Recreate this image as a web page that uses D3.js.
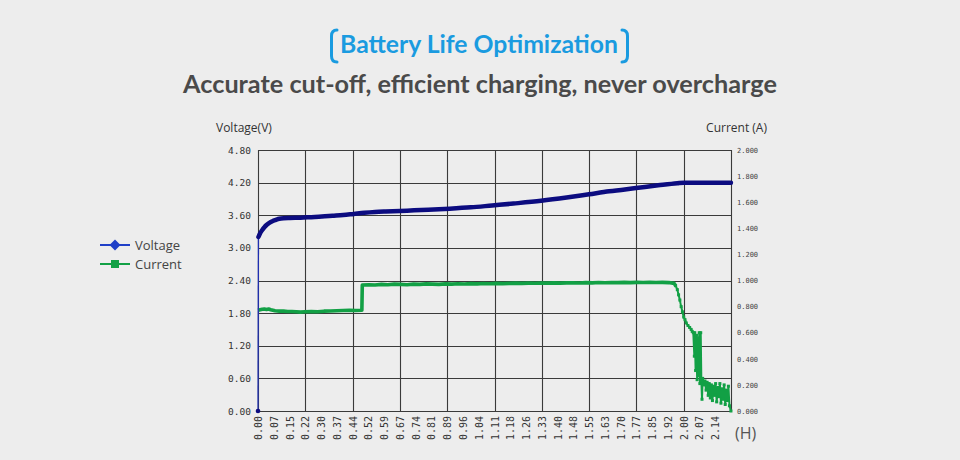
<!DOCTYPE html>
<html>
<head>
<meta charset="utf-8">
<script src="https://cdn.jsdelivr.net/npm/d3@7"></script>
<style>
  html, body { margin: 0; padding: 0; background: #ededed; }
  svg { display: block; }
</style>
</head>
<body>
<svg id="chart" width="960" height="460"></svg>
<script>
// ---------- DATA ----------
const titleText = "Battery Life Optimization";
const subtitleText = "Accurate cut-off, efficient charging, never overcharge";
const leftAxisTitle = "Voltage(V)";
const rightAxisTitle = "Current (A)";
const xUnit = "(H)";
const seriesNames = ["Voltage", "Current"];

const xTickLabels = ["0.00","0.07","0.15","0.22","0.30","0.37","0.44","0.52","0.59","0.67",
  "0.74","0.81","0.89","0.96","1.04","1.11","1.18","1.26","1.33","1.40",
  "1.48","1.55","1.63","1.70","1.77","1.85","1.92","2.00","2.07","2.14"];
const leftTicks = [0, 0.6, 1.2, 1.8, 2.4, 3.0, 3.6, 4.2, 4.8];
const rightTicks = [0, 0.2, 0.4, 0.6, 0.8, 1.0, 1.2, 1.4, 1.6, 1.8, 2.0];

// Voltage (hours, volts)
const voltageT = [0, 0.002, 0.01, 0.02, 0.03, 0.04, 0.05, 0.06, 0.07, 0.08, 0.09, 0.10, 0.12, 0.15,
  0.20, 0.25, 0.30, 0.35, 0.40, 0.45, 0.50, 0.55, 0.60, 0.70, 0.80, 0.90, 1.00, 1.10, 1.20,
  1.33, 1.45, 1.555, 1.65, 1.776, 1.88, 1.97, 2.00, 2.10, 2.222];
const voltageV = [0, 3.20, 3.27, 3.33, 3.38, 3.42, 3.45, 3.475, 3.495, 3.51, 3.525, 3.535, 3.545, 3.55,
  3.555, 3.565, 3.575, 3.59, 3.605, 3.625, 3.645, 3.66, 3.67, 3.685, 3.70, 3.72, 3.745, 3.78, 3.815,
  3.865, 3.925, 3.985, 4.04, 4.10, 4.15, 4.19, 4.20, 4.20, 4.20];

// Current (hours, amps)
const currentT = [0, 0.01, 0.02, 0.03, 0.04, 0.05, 0.06, 0.07, 0.08, 0.10, 0.12, 0.14, 0.16, 0.18,
  0.20, 0.22, 0.25, 0.28, 0.31, 0.34, 0.37, 0.40, 0.43, 0.46, 0.488, 0.49,
  0.52, 0.55, 0.58, 0.61, 0.64, 0.67, 0.70, 0.73, 0.76, 0.79, 0.82, 0.85, 0.88, 0.91, 0.94, 0.97,
  1.00, 1.03, 1.06, 1.09, 1.12, 1.15, 1.18, 1.21, 1.24, 1.27, 1.30, 1.33, 1.36, 1.39, 1.42, 1.45,
  1.48, 1.51, 1.54, 1.57, 1.60, 1.63, 1.66, 1.69, 1.72, 1.75, 1.78, 1.81, 1.84, 1.87, 1.90, 1.93,
  1.955, 1.962, 1.97, 1.976, 1.982, 1.988, 1.994, 2.00, 2.006, 2.012, 2.02, 2.028, 2.035, 2.04,
  2.045, 2.05, 2.052, 2.056, 2.06, 2.063, 2.066, 2.07, 2.073, 2.076, 2.08, 2.083, 2.086, 2.089,
  2.095, 2.10, 2.105, 2.11, 2.115, 2.12, 2.125, 2.13, 2.135, 2.14, 2.145, 2.15, 2.155, 2.16,
  2.165, 2.17, 2.175, 2.18, 2.185, 2.19, 2.195, 2.20, 2.205, 2.21, 2.215, 2.222];
const currentA = [0.772, 0.776, 0.78, 0.782, 0.778, 0.782, 0.776, 0.772, 0.768, 0.765, 0.765, 0.762, 0.762, 0.76,
  0.758, 0.76, 0.762, 0.76, 0.765, 0.766, 0.768, 0.77, 0.772, 0.77, 0.772, 0.965,
  0.968, 0.966, 0.97, 0.968, 0.972, 0.97, 0.968, 0.972, 0.97, 0.974, 0.972, 0.97, 0.974, 0.972, 0.975, 0.973,
  0.976, 0.974, 0.977, 0.975, 0.978, 0.976, 0.978, 0.98, 0.978, 0.98, 0.979, 0.981, 0.98, 0.982, 0.98, 0.982,
  0.983, 0.981, 0.984, 0.982, 0.985, 0.983, 0.985, 0.984, 0.986, 0.984, 0.986, 0.985, 0.987, 0.985, 0.986, 0.984,
  0.978, 0.96, 0.93, 0.89, 0.85, 0.80, 0.76, 0.72, 0.70, 0.675, 0.655, 0.64, 0.625, 0.61,
  0.60, 0.42, 0.60, 0.31, 0.58, 0.24, 0.56, 0.27, 0.60, 0.21, 0.60, 0.23, 0.09, 0.25,
  0.20, 0.23, 0.16, 0.22, 0.12, 0.21, 0.10, 0.20, 0.08, 0.19, 0.12, 0.21, 0.07, 0.18,
  0.11, 0.21, 0.06, 0.17, 0.09, 0.20, 0.05, 0.16, 0.08, 0.19, 0.04, 0.0];

// ---------- CHART ----------
const svg = d3.select("#chart");
const W = 960, H = 460;
const plot = { left: 258, right: 731, top: 150, bottom: 411 };
const xStep = 2 / 27;
const x = d3.scaleLinear().domain([0, 30 * xStep]).range([plot.left, plot.right]);
const yL = d3.scaleLinear().domain([0, 4.8]).range([plot.bottom, plot.top]);
const yR = d3.scaleLinear().domain([0, 2.0]).range([plot.bottom, plot.top]);

const blue = "#1a9be0";
const navy = "#0c0c80";
const green = "#12a045";
const grid = "#3a3a3a";

svg.append("rect").attr("width", W).attr("height", H).attr("fill", "#ededed");

// Title
function fitText(sel, target) {
  const n = sel.node();
  let fs = parseFloat(sel.attr("font-size"));
  const w = n.getComputedTextLength();
  if (w > 0) sel.attr("font-size", (fs * target / w).toFixed(2));
}
const title = svg.append("text").attr("x", 479).attr("y", 53)
  .attr("text-anchor", "middle").attr("font-family", "Lato, 'Open Sans', sans-serif")
  .attr("font-weight", "bold").attr("font-size", 21).attr("fill", blue).text(titleText);
fitText(title, 278);
// Brackets
svg.append("path").attr("d", "M337,30 Q331.5,30 331.5,36 L331.5,56 Q331.5,62 337,62")
  .attr("fill", "none").attr("stroke", blue).attr("stroke-width", 3).attr("stroke-linecap", "round");
svg.append("path").attr("d", "M622,30 Q627.5,30 627.5,36 L627.5,56 Q627.5,62 622,62")
  .attr("fill", "none").attr("stroke", blue).attr("stroke-width", 3).attr("stroke-linecap", "round");

const sub = svg.append("text").attr("x", 480).attr("y", 93)
  .attr("text-anchor", "middle").attr("font-family", "Lato, 'Open Sans', sans-serif")
  .attr("font-weight", "bold").attr("font-size", 24).attr("fill", "#4a4a4a").text(subtitleText);
fitText(sub, 594);

// Grid
const g = svg.append("g");
g.selectAll("line.h").data(leftTicks).join("line")
  .attr("x1", plot.left).attr("x2", plot.right)
  .attr("y1", d => Math.round(yL(d)) + 0.5).attr("y2", d => Math.round(yL(d)) + 0.5)
  .attr("stroke", grid).attr("stroke-width", 1.1);
const vGrid = d3.range(0, 31, 3).map(i => i * xStep);
g.selectAll("line.v").data(vGrid).join("line")
  .attr("x1", d => Math.round(x(d)) + 0.5).attr("x2", d => Math.round(x(d)) + 0.5)
  .attr("y1", plot.top).attr("y2", plot.bottom)
  .attr("stroke", grid).attr("stroke-width", 1.1);

// Axes
const monoFont = "'DejaVu Sans Mono', 'Liberation Mono', monospace";
const axL = svg.append("g").attr("transform", `translate(${plot.left - 7},0)`)
  .call(d3.axisLeft(yL).tickValues(leftTicks).tickFormat(d3.format(".2f")).tickSize(0).tickPadding(0));
axL.select(".domain").remove();
axL.selectAll("text").attr("font-family", monoFont).attr("font-size", 9.5).attr("fill", "#333");

const axR = svg.append("g").attr("transform", `translate(${plot.right + 6},0)`)
  .call(d3.axisRight(yR).tickValues(rightTicks).tickFormat(d3.format(".3f")).tickSize(0).tickPadding(0));
axR.select(".domain").remove();
axR.selectAll("text").attr("font-family", monoFont).attr("font-size", 7).attr("fill", "#444");

const xTickVals = xTickLabels.map((_, i) => i * xStep);
const axB = svg.append("g").attr("transform", `translate(0,${plot.bottom})`)
  .call(d3.axisBottom(x).tickValues(xTickVals).tickFormat((d, i) => xTickLabels[i]).tickSize(0).tickPadding(0));
axB.select(".domain").remove();
axB.selectAll("text").attr("font-family", monoFont).attr("font-size", 10).attr("fill", "#333")
  .attr("text-anchor", "end").attr("transform", "rotate(-90)")
  .attr("x", -5).attr("y", 0).attr("dy", "0.35em");

// Axis titles
const labelFont = "'Open Sans', 'Noto Sans', sans-serif";
svg.append("text").attr("x", 216).attr("y", 132).attr("font-family", labelFont)
  .attr("font-size", 12).attr("fill", "#333").text(leftAxisTitle);
svg.append("text").attr("x", 767).attr("y", 132).attr("text-anchor", "end").attr("font-family", labelFont)
  .attr("font-size", 12).attr("fill", "#333").text(rightAxisTitle);
svg.append("text").attr("x", 735).attr("y", 439).attr("font-family", labelFont)
  .attr("font-size", 16).attr("fill", "#555").text(xUnit);

// Series
const vData = voltageT.map((t, i) => [t, voltageV[i]]);
const cData = currentT.map((t, i) => [t, currentA[i]]);
const lineV = d3.line().x(d => x(d[0])).y(d => yL(d[1])).curve(d3.curveMonotoneX);
const lineC = d3.line().x(d => x(d[0])).y(d => yR(d[1]));

// current: flat part thick, noisy tail thinner
const splitIdx = currentT.findIndex(t => t >= 1.962);
svg.append("path").datum(cData.slice(0, splitIdx + 1)).attr("d", lineC)
  .attr("fill", "none").attr("stroke", green).attr("stroke-width", 3.6).attr("stroke-linejoin", "round");
svg.append("path").datum(cData.slice(splitIdx)).attr("d", lineC)
  .attr("fill", "none").attr("stroke", green).attr("stroke-width", 2).attr("stroke-linejoin", "round");
svg.selectAll("rect.cm").data(cData.slice(splitIdx)).join("rect")
  .attr("x", d => x(d[0]) - 1.5).attr("y", d => yR(d[1]) - 1.5)
  .attr("width", 3).attr("height", 3).attr("fill", green);

// voltage: thin first segment (0 -> 3.20), then thick
svg.append("path").datum(vData.slice(0, 2)).attr("d", d3.line().x(d => x(d[0])).y(d => yL(d[1])))
  .attr("fill", "none").attr("stroke", "#1f2fb0").attr("stroke-width", 1.3);
svg.append("path").datum(vData.slice(1)).attr("d", lineV)
  .attr("fill", "none").attr("stroke", navy).attr("stroke-width", 4.5)
  .attr("stroke-linejoin", "round").attr("stroke-linecap", "round");
svg.append("circle").attr("cx", x(voltageT[0])).attr("cy", yL(voltageV[0])).attr("r", 2.3).attr("fill", navy);

// Legend
const legY = [245, 264];
const legCol = ["#2040c8", green];
seriesNames.forEach((name, i) => {
  const lg = svg.append("g");
  lg.append("line").attr("x1", 100).attr("x2", 130).attr("y1", legY[i]).attr("y2", legY[i])
    .attr("stroke", legCol[i]).attr("stroke-width", 2);
  if (i === 0) {
    lg.append("path").attr("d", `M115,${legY[i] - 5.5} L120.5,${legY[i]} L115,${legY[i] + 5.5} L109.5,${legY[i]} Z`)
      .attr("fill", legCol[i]);
  } else {
    lg.append("rect").attr("x", 111).attr("y", legY[i] - 4).attr("width", 8).attr("height", 8)
      .attr("fill", legCol[i]);
  }
  lg.append("text").attr("x", 135).attr("y", legY[i] + 4.5).attr("font-family", labelFont)
    .attr("font-size", 13).attr("fill", "#444").text(name);
});
</script>
</body>
</html>
